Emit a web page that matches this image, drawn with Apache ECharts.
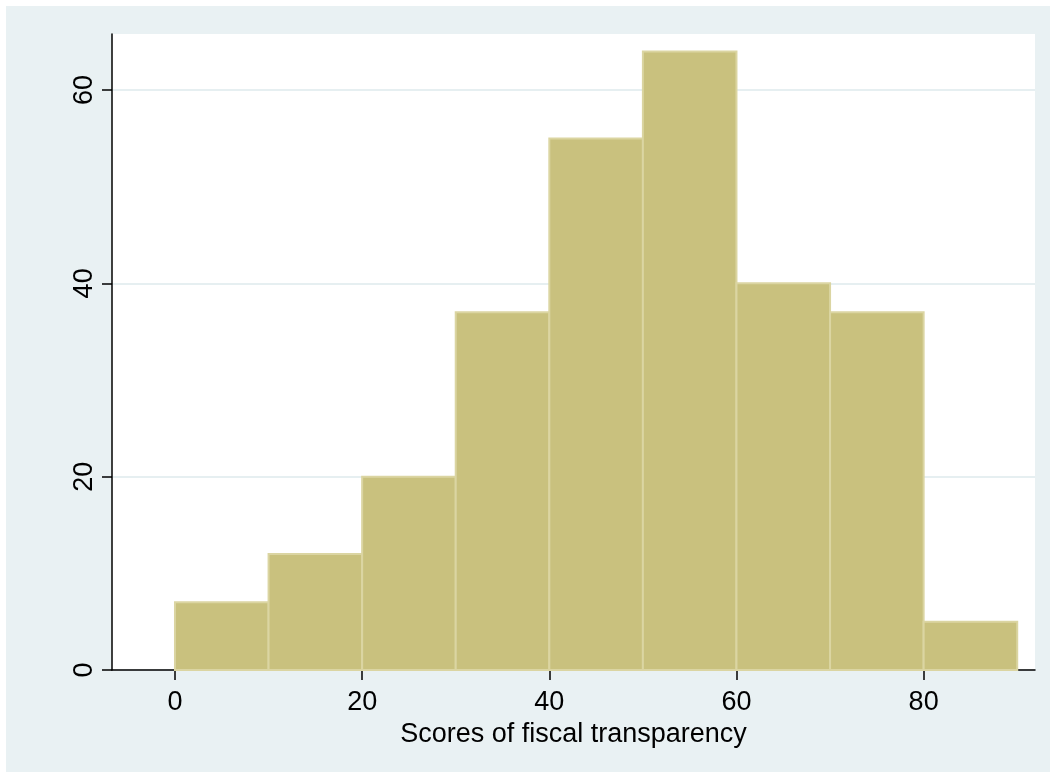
<!DOCTYPE html>
<html>
<head>
<meta charset="utf-8">
<script src="https://cdn.jsdelivr.net/npm/echarts@6/dist/echarts.min.js"></script>
<style>
html,body{margin:0;padding:0;background:#ffffff;}
#chart{width:1050px;height:772px;}
</style>
</head>
<body>
<div id="chart"></div>
<script>
// Histogram data: bin start, bin width and frequencies
const binStarts = [0, 10, 20, 30, 40, 50, 60, 70, 80];
const binWidth = 10;
const frequencies = [7, 12, 20, 37, 55, 64, 40, 37, 5];
const xTicks = [0, 20, 40, 60, 80];
const yTicks = [0, 20, 40, 60];
const xTitle = 'Scores of fiscal transparency';

const data = binStarts.map((s, i) => [s, s + binWidth, frequencies[i]]);

const chart = echarts.init(document.getElementById('chart'));
const font = 'Liberation Sans, Arial, Helvetica, sans-serif';
chart.setOption({
  backgroundColor: '#ffffff',
  animation: false,
  graphic: [{
    type: 'rect', z: -10, silent: true,
    shape: {x: 6, y: 6, width: 1044, height: 766},
    style: {fill: '#e9f1f3'}
  }, {
    type: 'rect', z: -9, silent: true,
    shape: {x: 112, y: 34, width: 923, height: 636},
    style: {fill: '#ffffff'}
  }],
  grid: {left: 112, right: 15, top: 34, bottom: 102, containLabel: false},
  xAxis: {
    type: 'value',
    min: -6.73, max: 91.9,
    name: xTitle,
    nameLocation: 'middle',
    nameGap: 46,
    nameTextStyle: {fontSize: 27, color: '#000', fontFamily: font},
    axisLine: {show: true, onZero: false, lineStyle: {color: '#000', width: 1.5}},
    axisTick: {show: true, length: 10, lineStyle: {color: '#000', width: 1.5}, customValues: xTicks},
    axisLabel: {fontSize: 27, color: '#000', fontFamily: font, margin: 19, customValues: xTicks},
    splitLine: {show: false}
  },
  yAxis: {
    type: 'value',
    min: 0, max: 65.8,
    axisLine: {show: true, onZero: false, lineStyle: {color: '#000', width: 1.5}},
    axisTick: {show: true, length: 10, lineStyle: {color: '#000', width: 1.5}, customValues: yTicks},
    axisLabel: {fontSize: 27, color: '#000', fontFamily: font, rotate: 90, margin: 14, customValues: yTicks},
    splitLine: {show: true, lineStyle: {color: '#e6eff1', width: 2}}
  },
  series: [{
    type: 'custom',
    data: data,
    encode: {x: [0, 1], y: 2},
    renderItem: function (params, api) {
      const p0 = api.coord([api.value(0), 0]);
      const p1 = api.coord([api.value(1), api.value(2)]);
      return {
        type: 'rect',
        shape: {x: p0[0], y: p1[1], width: p1[0] - p0[0], height: p0[1] - p1[1]},
        style: {fill: '#c9c17e', stroke: '#dbd5a2', lineWidth: 2}
      };
    }
  }]
});
</script>
</body>
</html>
